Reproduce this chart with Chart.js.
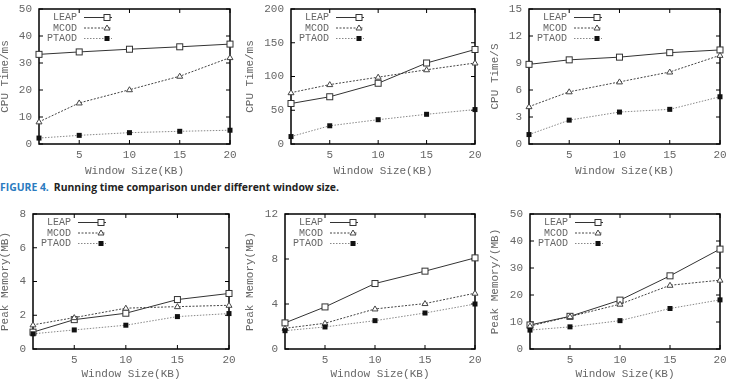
<!DOCTYPE html>
<html>
<head>
<meta charset="utf-8">
<script src="https://cdn.jsdelivr.net/npm/chart.js@4.4.1/dist/chart.umd.min.js"></script>
<style>
    body { margin: 0; background: #fff; width: 729px; height: 380px; position: relative; overflow: hidden; }
    canvas { position: absolute; }
    #caption { position: absolute; left: 0; top: 181px; font: bold 10.4px "Open Sans", sans-serif; line-height: 13px; color: #222; white-space: nowrap; }
    #caption span { color: #2b7bbf; margin-right: 5px; }
</style>
</head>
<body>
<canvas id="c1" width="240" height="180" style="left:0;top:0"></canvas>
<canvas id="c2" width="240" height="180" style="left:245px;top:0"></canvas>
<canvas id="c3" width="239" height="180" style="left:490px;top:0"></canvas>
<div id="caption"><span>FIGURE 4.</span>Running time comparison under different window size.</div>
<canvas id="c4" width="240" height="180" style="left:0;top:200px"></canvas>
<canvas id="c5" width="240" height="180" style="left:245px;top:200px"></canvas>
<canvas id="c6" width="239" height="180" style="left:490px;top:200px"></canvas>

<script>
// ---- data ----
const windowSizes = [1, 5, 10, 15, 20];
const xTicks = [5, 10, 15, 20];
const seriesNames = ['LEAP', 'MCOD', 'PTAOD'];

// CPU time (ms), first dataset
const cpu1Ticks = [0, 10, 20, 30, 40, 50];
const cpu1Leap = [33.2, 34.1, 35.1, 36, 37];
const cpu1Mcod = [8.2, 15.2, 20.1, 25.1, 32];
const cpu1Ptaod = [2.2, 3.2, 4.2, 4.7, 5.1];

// CPU time (ms), second dataset
const cpu2Ticks = [0, 50, 100, 150, 200];
const cpu2Leap = [60, 70, 90, 120, 140];
const cpu2Mcod = [76, 88, 99, 110, 120];
const cpu2Ptaod = [11, 27, 36, 44, 51];

// CPU time (s), third dataset
const cpu3Ticks = [0, 3, 6, 9, 12, 15];
const cpu3Leap = [8.85, 9.35, 9.65, 10.15, 10.45];
const cpu3Mcod = [4.15, 5.8, 6.9, 8.0, 9.85];
const cpu3Ptaod = [1.05, 2.65, 3.55, 3.85, 5.25];

// Peak memory (MB)
const mem1Ticks = [0, 2, 4, 6, 8];
const mem1Leap = [1.0, 1.74, 2.12, 2.93, 3.29];
const mem1Mcod = [1.43, 1.86, 2.42, 2.51, 2.59];
const mem1Ptaod = [0.9, 1.13, 1.41, 1.92, 2.1];

const mem2Ticks = [0, 4, 8, 12];
const mem2Leap = [2.32, 3.74, 5.82, 6.92, 8.1];
const mem2Mcod = [1.84, 2.29, 3.56, 4.04, 4.96];
const mem2Ptaod = [1.63, 1.96, 2.52, 3.2, 4.0];

const mem3Ticks = [0, 10, 20, 30, 40, 50];
const mem3Leap = [8.9, 12.1, 18.1, 27.1, 37];
const mem3Mcod = [8.5, 12, 16.6, 23.6, 25.5];
const mem3Ptaod = [7, 8.2, 10.5, 15, 18.2];

// ---- styles ----
const MONO = '"Liberation Mono", "DejaVu Sans Mono", monospace';
const TEXT = '#666';
const seriesStyles = [
    { color: '#333', dash: [], marker: 'openSquare' },
    { color: '#444', dash: [2, 1.5], marker: 'openTriangle' },
    { color: '#888', dash: [1.5, 1.5], marker: 'filledSquare' }
];

function drawMarker(ctx, kind, x, y) {
    ctx.save();
    ctx.setLineDash([]);
    ctx.lineWidth = 1;
    if (kind === 'openSquare') {
        ctx.fillStyle = '#fff';
        ctx.strokeStyle = '#333';
        ctx.fillRect(x - 3, y - 3, 6, 6);
        ctx.strokeRect(x - 3, y - 3, 6, 6);
    } else if (kind === 'openTriangle') {
        ctx.fillStyle = '#fff';
        ctx.strokeStyle = '#444';
        ctx.beginPath();
        ctx.moveTo(x, y - 3);
        ctx.lineTo(x + 3, y + 2);
        ctx.lineTo(x - 3, y + 2);
        ctx.closePath();
        ctx.fill();
        ctx.stroke();
    } else {
        ctx.fillStyle = '#111';
        ctx.fillRect(x - 2.5, y - 2.5, 5, 5);
    }
    ctx.restore();
}

// frame with inward ticks (drawn before the lines)
const framePlugin = {
    id: 'frame',
    beforeDatasetsDraw(chart) {
        const { ctx, chartArea: a, scales } = chart;
        ctx.save();
        ctx.strokeStyle = '#000';
        ctx.lineWidth = 1;
        scales.x.ticks.forEach(t => {
            const px = scales.x.getPixelForValue(t.value);
            ctx.beginPath();
            ctx.moveTo(px, a.bottom); ctx.lineTo(px, a.bottom - 4);
            ctx.moveTo(px, a.top); ctx.lineTo(px, a.top + 4);
            ctx.stroke();
        });
        scales.y.ticks.forEach(t => {
            const py = scales.y.getPixelForValue(t.value);
            ctx.beginPath();
            ctx.moveTo(a.left, py); ctx.lineTo(a.left + 4, py);
            ctx.moveTo(a.right, py); ctx.lineTo(a.right - 4, py);
            ctx.stroke();
        });
        ctx.lineWidth = 1.5;
        ctx.strokeRect(a.left, a.top, a.right - a.left, a.bottom - a.top);
        ctx.restore();
    },
    afterDatasetsDraw(chart) {
        const { ctx, chartArea: a } = chart;
        const xScale = chart.scales.x, yScale = chart.scales.y;
        // markers over the lines
        chart.data.datasets.forEach((ds, i) => {
            ds.data.forEach(p => {
                drawMarker(ctx, seriesStyles[i].marker,
                    xScale.getPixelForValue(p.x), yScale.getPixelForValue(p.y));
            });
        });
        // legend
        ctx.save();
        ctx.font = '10px ' + MONO;
        ctx.textAlign = 'right';
        ctx.textBaseline = 'middle';
        chart.data.datasets.forEach((ds, i) => {
            const y = a.top + 8.5 + i * 10.5;
            ctx.fillStyle = TEXT;
            ctx.fillText(ds.label, a.left + 38, y);
            ctx.strokeStyle = seriesStyles[i].color;
            ctx.lineWidth = 1;
            ctx.setLineDash(seriesStyles[i].dash);
            ctx.beginPath();
            ctx.moveTo(a.left + 45, y);
            ctx.lineTo(a.left + 73, y);
            ctx.stroke();
            drawMarker(ctx, seriesStyles[i].marker, a.left + 68, y);
        });
        ctx.restore();
    }
};

function makeChart(id, yTitle, yTicks, series, box) {
    const canvas = document.getElementById(id);
    const W = canvas.width, H = canvas.height;
    new Chart(canvas, {
        type: 'line',
        data: {
            datasets: series.map((vals, i) => ({
                label: seriesNames[i],
                data: windowSizes.map((x, j) => ({ x: x, y: vals[j] })),
                borderColor: seriesStyles[i].color,
                borderDash: seriesStyles[i].dash,
                borderWidth: 1,
                pointRadius: 0,
                tension: 0,
                clip: false
            }))
        },
        options: {
            responsive: false,
            animation: false,
            events: [],
            layout: { padding: { left: 0, top: box.top, right: W - box.right, bottom: 0 } },
            plugins: { legend: { display: false }, tooltip: { enabled: false } },
            scales: {
                x: {
                    type: 'linear',
                    min: 1,
                    max: 20,
                    afterBuildTicks: s => { s.ticks = xTicks.map(v => ({ value: v })); },
                    afterFit: s => { s.height = H - box.bottom; s.paddingLeft = 0; s.paddingRight = 0; },
                    grid: { display: false, drawTicks: false },
                    border: { display: false },
                    ticks: { color: TEXT, padding: 4, maxRotation: 0, font: { family: MONO, size: 11 } },
                    title: {
                        display: true,
                        text: 'Window Size(KB)',
                        color: TEXT,
                        font: { family: MONO, size: 11, lineHeight: 1 },
                        padding: { top: 0, bottom: box.titlePad }
                    }
                },
                y: {
                    min: 0,
                    max: yTicks[yTicks.length - 1],
                    afterBuildTicks: s => { s.ticks = yTicks.map(v => ({ value: v })); },
                    afterFit: s => { s.width = box.left; s.paddingTop = 0; s.paddingBottom = 0; },
                    grid: { display: false, drawTicks: false },
                    border: { display: false },
                    ticks: { color: TEXT, padding: 7, font: { family: MONO, size: 11 } },
                    title: {
                        display: true,
                        text: yTitle,
                        color: TEXT,
                        font: { family: MONO, size: 11, lineHeight: 1 },
                        padding: { top: 0, bottom: 0 }
                    }
                }
            }
        },
        plugins: [framePlugin]
    });
}

makeChart('c1', 'CPU Time/ms', cpu1Ticks, [cpu1Leap, cpu1Mcod, cpu1Ptaod],
    { left: 39, right: 230, top: 9, bottom: 144, titlePad: 3.5 });
makeChart('c2', 'CPU Time/ms', cpu2Ticks, [cpu2Leap, cpu2Mcod, cpu2Ptaod],
    { left: 46, right: 230, top: 9, bottom: 144, titlePad: 3.5 });
makeChart('c3', 'CPU Time/S', cpu3Ticks, [cpu3Leap, cpu3Mcod, cpu3Ptaod],
    { left: 39, right: 230, top: 9, bottom: 144, titlePad: 3.5 });
makeChart('c4', 'Peak Memory(MB)', mem1Ticks, [mem1Leap, mem1Mcod, mem1Ptaod],
    { left: 33, right: 229, top: 14, bottom: 149, titlePad: 0 });
makeChart('c5', 'Peak Memory(MB)', mem2Ticks, [mem2Leap, mem2Mcod, mem2Ptaod],
    { left: 40, right: 230, top: 14, bottom: 149, titlePad: 0 });
makeChart('c6', 'Peak Memory/(MB)', mem3Ticks, [mem3Leap, mem3Mcod, mem3Ptaod],
    { left: 40, right: 230, top: 14, bottom: 149, titlePad: 0 });
</script>
</body>
</html>
